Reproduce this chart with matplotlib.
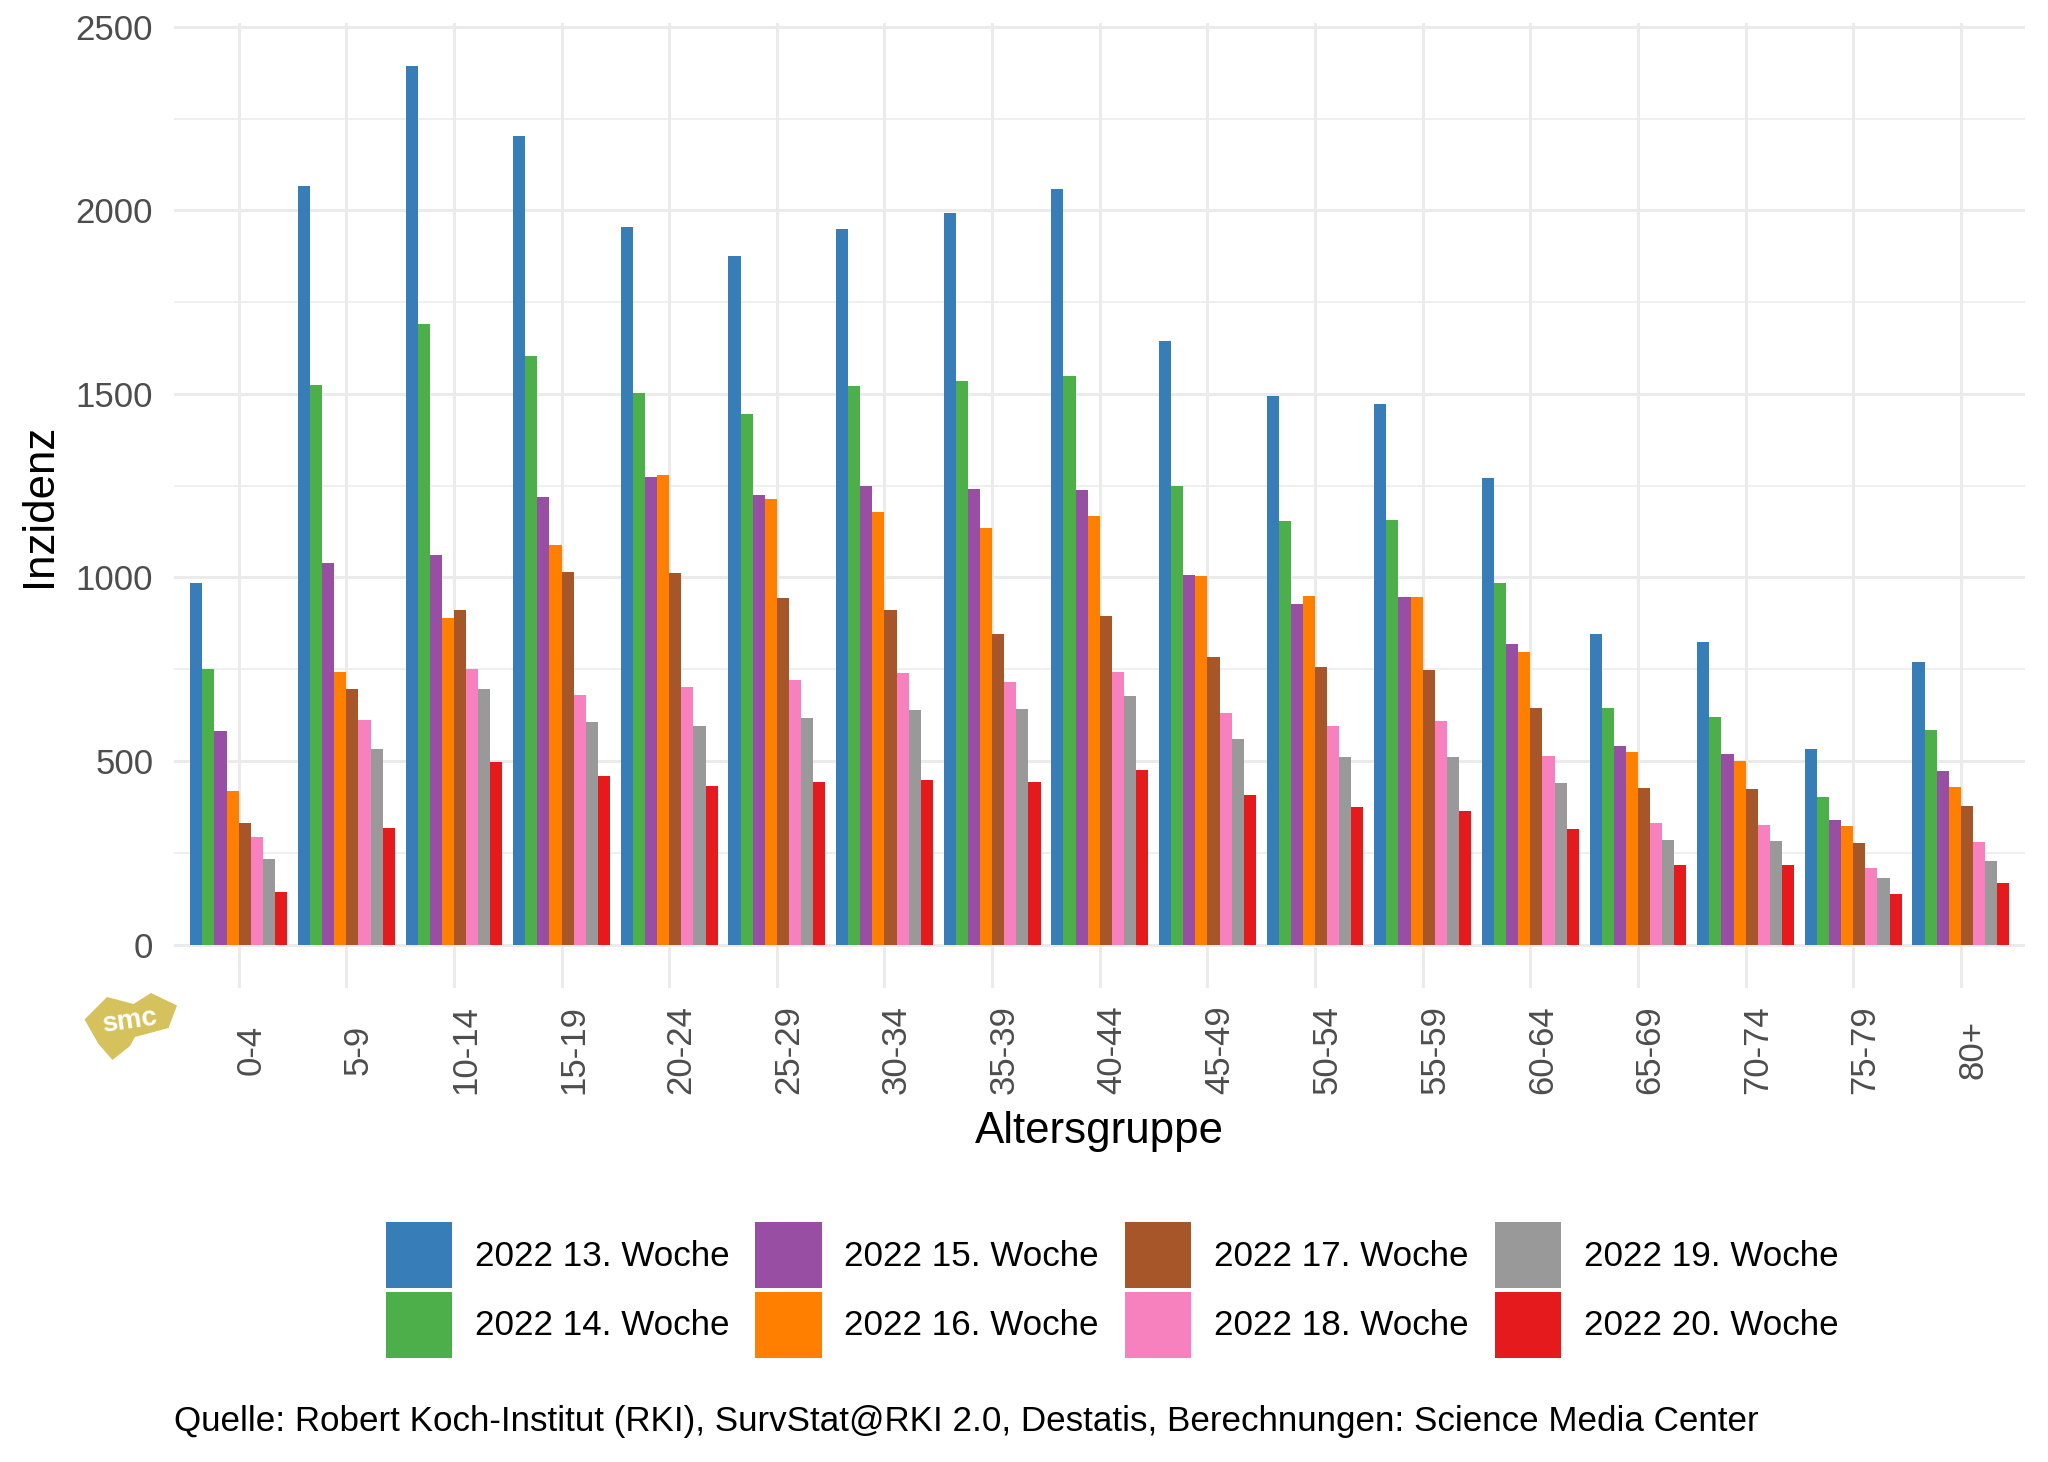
import matplotlib.pyplot as plt
import numpy as np
from matplotlib.patches import Polygon
from matplotlib.transforms import ScaledTranslation

plt.rcParams['font.family'] = ['Liberation Sans', 'DejaVu Sans']

altersgruppen = ['0-4', '5-9', '10-14', '15-19', '20-24', '25-29', '30-34', '35-39',
                 '40-44', '45-49', '50-54', '55-59', '60-64', '65-69', '70-74', '75-79', '80+']

wochen = ['2022 13. Woche', '2022 14. Woche', '2022 15. Woche', '2022 16. Woche',
          '2022 17. Woche', '2022 18. Woche', '2022 19. Woche', '2022 20. Woche']

farben = ['#377EB8', '#4DAF4A', '#984EA3', '#FF7F00', '#A65628', '#F781BF', '#999999', '#E41A1C']

# Inzidenz je Woche, eine Liste pro Woche (Reihenfolge wie altersgruppen)
w13 = [985, 2067, 2392, 2203, 1954, 1875, 1949, 1994, 2059, 1645, 1494, 1472, 1270, 846, 823, 533, 771]
w14 = [750, 1524, 1690, 1604, 1503, 1444, 1522, 1536, 1550, 1249, 1154, 1157, 985, 645, 620, 401, 584]
w15 = [582, 1039, 1061, 1218, 1273, 1225, 1249, 1240, 1237, 1008, 929, 947, 818, 540, 519, 339, 473]
w16 = [419, 742, 889, 1088, 1279, 1214, 1178, 1136, 1167, 1004, 949, 947, 797, 525, 499, 323, 429]
w17 = [332, 697, 910, 1016, 1011, 943, 910, 846, 895, 784, 756, 747, 645, 426, 424, 276, 377]
w18 = [294, 612, 750, 679, 702, 721, 740, 716, 742, 631, 596, 608, 514, 332, 325, 208, 280]
w19 = [233, 533, 697, 605, 594, 617, 639, 641, 676, 561, 511, 511, 440, 285, 281, 181, 228]
w20 = [144, 318, 497, 460, 433, 443, 448, 443, 476, 407, 374, 365, 314, 217, 217, 137, 169]

werte = [w13, w14, w15, w16, w17, w18, w19, w20]

fig = plt.figure(figsize=(10.24, 7.31), dpi=200)
ax = fig.add_axes([0.085, 0.3239, 0.904, 0.6607])

x = np.arange(len(altersgruppen))
n = len(werte)
breite = 0.9 / n
for i, (w, f, lab) in enumerate(zip(werte, farben, wochen)):
    pos = x - 0.45 + breite * (i + 0.5)
    ax.bar(pos, w, width=breite, color=f, label=lab, linewidth=0, zorder=3)

ymax = max(max(w) for w in werte)
ax.set_ylim(-0.05 * ymax, 1.05 * ymax)
ax.set_xlim(-0.6, len(altersgruppen) - 0.4)

ax.set_yticks(np.arange(0, 2501, 500))
ax.set_yticks(np.arange(250, 2500, 500), minor=True)
ax.set_xticks(x)
ax.set_xticklabels(altersgruppen, rotation=90, ha='center', va='center')

for s in ax.spines.values():
    s.set_visible(False)
ax.tick_params(axis='both', which='both', length=0, colors='#4D4D4D', labelsize=12.5)
ax.tick_params(axis='y', pad=7.5)
ax.tick_params(axis='x', pad=22)
for lbl in ax.get_xticklabels():
    lbl.set_transform(lbl.get_transform() + ScaledTranslation(6 / 100, 0, fig.dpi_scale_trans))

ax.grid(True, which='major', color='#EBEBEB', linewidth=1.1, zorder=0)
ax.grid(True, which='minor', axis='y', color='#EBEBEB', linewidth=0.55, zorder=0)
ax.set_axisbelow(True)

ax.set_ylabel('Inzidenz', fontsize=15.8, color='black', labelpad=5.5)
fig.text(0.537, 1 - 1132 / 1462, 'Altersgruppe', fontsize=15.8, ha='center', va='center')

leg = fig.legend(loc='center', bbox_to_anchor=(0.543, 1 - 1290 / 1462), ncol=4,
                 frameon=False, fontsize=12.6, handlelength=1.89, handleheight=2.53,
                 labelspacing=0.1, handletextpad=0.65, columnspacing=0.75,
                 borderaxespad=0, borderpad=0)

fig.text(174 / 2048, 1 - 1421 / 1462,
         'Quelle: Robert Koch-Institut (RKI), SurvStat@RKI 2.0, Destatis, Berechnungen: Science Media Center',
         fontsize=12.6, ha='left', va='center')

# smc Logo (Dekoration)
logo = [(84.5, 1019.5), (107, 997), (133.5, 1004), (151, 993), (177, 1005.5), (168.5, 1028),
        (135, 1037), (130, 1046), (112.5, 1060), (98.5, 1044)]
logo = [(px / 2048, 1 - py / 1462) for px, py in logo]
fig.patches.append(Polygon(logo, closed=True, transform=fig.transFigure,
                           facecolor='#D6C25C', edgecolor='none'))
fig.text(130 / 2048, 1 - 1021 / 1462, 'smc', fontsize=10, color='white', weight='bold',
         ha='center', va='center', rotation=8)

fig.savefig('out.png', dpi=200, facecolor='white')
